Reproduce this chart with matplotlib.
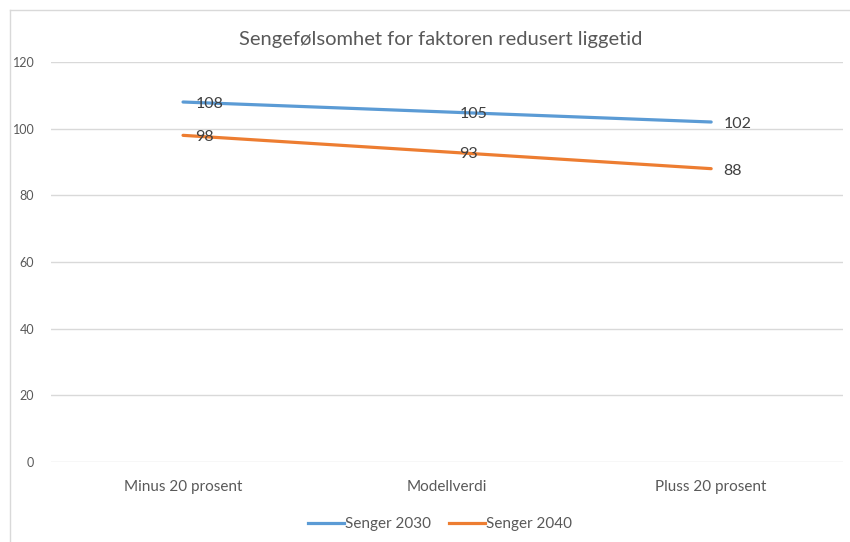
import matplotlib
matplotlib.use("Agg")
import matplotlib.pyplot as plt
from matplotlib.lines import Line2D

plt.rcParams['font.family'] = ['Lato', 'DejaVu Sans']

categories = ["Minus 20 prosent", "Modellverdi", "Pluss 20 prosent"]
senger_2030 = [108, 105, 102]
senger_2040 = [98, 93, 88]
series_names = ["Senger 2030", "Senger 2040"]
yticks = [0, 20, 40, 60, 80, 100, 120]

blue = "#5B9BD5"
orange = "#ED7D31"
grey = "#595959"

fig = plt.figure(figsize=(8.5, 5.42), dpi=100)
ax = fig.add_axes([0.06, 0.1476, 0.932, 0.738])

x = list(range(len(categories)))
for vals, col, name in [(senger_2030, blue, series_names[0]),
                        (senger_2040, orange, series_names[1])]:
    ax.plot(x, vals, color=col, lw=2.3, solid_capstyle="round", label=name)
    for xi, v in zip(x, vals):
        ax.annotate(str(v), (xi, v), xytext=(9, -1.5), textcoords="offset points",
                    ha="left", va="center", fontsize=11.5, color="#404040")

ax.set_xlim(-0.5, 2.5)
ax.set_ylim(0, 120)
ax.set_yticks(yticks)
ax.set_xticks(x)
ax.set_xticklabels(categories)
ax.tick_params(axis="y", length=0, labelsize=9, labelcolor=grey, pad=12)
ax.tick_params(axis="x", length=0, labelsize=11, labelcolor=grey, pad=13)
ax.grid(axis="y", color="#D9D9D9", lw=1)
ax.set_axisbelow(True)
for s in ax.spines.values():
    s.set_visible(False)

fig.text(0.518, 0.928, "Sengefølsomhet for faktoren redusert liggetid",
         ha="center", va="center", fontsize=14.5, color=grey)

handles = [Line2D([], [], color=blue, lw=2.3), Line2D([], [], color=orange, lw=2.3)]
fig.legend(handles, series_names, loc="center", bbox_to_anchor=(0.518, 0.033),
           ncol=2, frameon=False, fontsize=11, labelcolor=grey,
           handlelength=2.3, handletextpad=0.1, columnspacing=1.2)

# chart frame (only left and top edges visible)
fig.add_artist(Line2D([10 / 850, 10 / 850], [0, 1 - 10 / 542], color="#D9D9D9", lw=1))
fig.add_artist(Line2D([10 / 850, 1], [1 - 10 / 542, 1 - 10 / 542], color="#D9D9D9", lw=1))

fig.savefig("out.png", dpi=100, facecolor="white")
